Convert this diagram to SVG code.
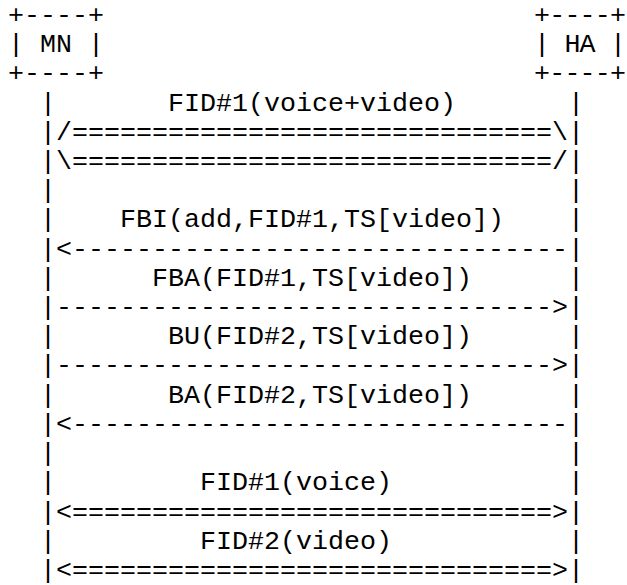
<svg xmlns="http://www.w3.org/2000/svg" width="627" height="585" viewBox="0 0 627 585">
<style>
text{font-family:"Liberation Mono","Courier New",monospace;font-size:26.667px;fill:#000;white-space:pre}
</style>
<rect width="627" height="585" fill="#fff"/>
<g id="MN">
<text x="8" y="22.8">+----+</text>
<text x="8" y="52.0">| MN |</text>
<text x="8" y="81.2">+----+</text>
</g>
<g id="HA">
<text x="534" y="22.8" textLength="92" lengthAdjust="spacing">+----+</text>
<text x="534" y="52.0" textLength="92" lengthAdjust="spacing">| HA |</text>
<text x="534" y="81.2" textLength="92" lengthAdjust="spacing">+----+</text>
</g>
<g id="lifelines">
<text x="40 40 40 40 40 40 40 40 40 40 40 40 40 40 40 40 40" y="110.5 139.7 168.9 198.1 227.3 256.6 285.8 315.0 344.2 373.4 402.7 431.9 461.1 490.3 519.5 548.8 578.0">|||||||||||||||||</text>
<text x="568 568 568 568 568 568 568 568 568 568 568 568 568 568 568 568 568" y="110.5 139.7 168.9 198.1 227.3 256.6 285.8 315.0 344.2 373.4 402.7 431.9 461.1 490.3 519.5 548.8 578.0">|||||||||||||||||</text>
</g>
<g id="connectors">
<text x="168" y="110.5">FID#1(voice+video)</text>
<text x="56" y="139.7">/==============================\</text>
<text x="56" y="168.9">\==============================/</text>
<text x="120" y="227.3">FBI(add,FID#1,TS[video])</text>
<text x="56" y="256.6">&lt;-------------------------------</text>
<text x="152" y="285.8">FBA(FID#1,TS[video])</text>
<text x="56" y="315.0">-------------------------------&gt;</text>
<text x="168" y="344.2">BU(FID#2,TS[video])</text>
<text x="56" y="373.4">-------------------------------&gt;</text>
<text x="168" y="402.7">BA(FID#2,TS[video])</text>
<text x="56" y="431.9">&lt;-------------------------------</text>
<text x="200" y="490.3">FID#1(voice)</text>
<text x="56" y="519.5">&lt;==============================&gt;</text>
<text x="200" y="548.8">FID#2(video)</text>
<text x="56" y="578.0">&lt;==============================&gt;</text>
</g>
</svg>
